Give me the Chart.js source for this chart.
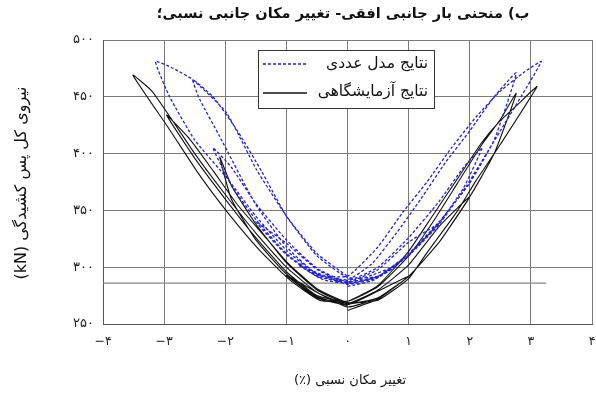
<!DOCTYPE html>
<html>
<head>
<meta charset="utf-8">
<script src="https://cdn.jsdelivr.net/npm/chart.js@4"></script>
<style>
  body { margin: 0; background: #fff; }
  #wrap { width: 596px; height: 394px; }
</style>
</head>
<body>
<div id="wrap"><canvas id="c" width="596" height="394"></canvas></div>
<script>
// texts
const chartTitle = "ب) منحنی بار جانبی افقی- تغییر مکان جانبی نسبی؛";
const xTitle = "تغییر مکان نسبی (٪)";
const yTitle = "نیروی کل پس کشیدگی (kN)";
const numLabel = "نتایج مدل عددی";
const expLabel = "نتایج آزمایشگاهی";

// tick values
const xTicks = [-4, -3, -2, -1, 0, 1, 2, 3, 4];
const yTicks = [250, 300, 350, 400, 450, 500];

// numerical model (blue dashed), drift % / force kN
const numX = [
  0, 0.4, 0.8, 0.4, 0, -0.4, -0.8, -0.4, 0,
  0.5, 1.0, 1.5, 1.0, 0.5, 0, -0.5, -1.0, -1.5, -1.0, -0.5, 0,
  0.5, 1.0, 1.5, 1.9, 2.2, 1.9, 1.5, 1.0, 0.5, 0, -0.5, -1.0, -1.5, -1.9, -2.2, -1.9, -1.5, -1.0, -0.5, 0,
  0.5, 1.0, 1.5, 2.0, 2.4, 2.76, 2.4, 2.0, 1.6, 1.2, 0.8, 0.4, 0, -0.5, -1.0, -1.5, -2.09, -2.42, -2.53, -2.2, -1.8, -1.4, -1.0, -0.5, 0,
  0.5, 1.0, 1.5, 1.94, 2.5, 3.17, 2.9, 2.5, 2.1, 1.7, 1.3, 0.9, 0.5, 0, -0.5, -1.0, -1.5, -1.95, -2.5, -2.91, -3.14, -2.85, -2.53, -1.98, -1.49, -1.0, -0.5, 0
];
const numY = [
  283, 288, 301, 293, 286, 289, 302, 293, 285,
  291, 310, 338, 322, 298, 287, 292, 311, 340, 321, 298, 286,
  292, 311, 339, 370, 405, 388, 358, 326, 300, 288, 293, 312, 342, 372, 405, 388, 356, 324, 299, 287,
  292, 312, 340, 374, 412, 471, 450, 420, 392, 360, 330, 303, 289, 294, 318, 355, 415, 448, 465, 450, 420, 384, 345, 310, 291,
  292, 312, 338, 371, 420, 481, 472, 455, 432, 405, 375, 348, 318, 292, 294, 315, 345, 377, 412, 450, 481, 475, 465, 436, 386, 345, 312, 292
];

// experimental results (black solid)
const expX = [
  0, 0.5, 1.0, 0.5, 0, -0.5, -1.0, -0.5, 0,
  0.5, 1.0, 1.5, 2.0, 1.5, 1.0, 0.5, 0, -0.5, -1.0, -1.5, -1.9, -2.09, -1.9, -1.5, -1.0, -0.5, 0,
  0.5, 1.0, 1.5, 2.0, 2.4, 2.76, 2.5, 2.2, 1.8, 1.4, 1.0, 0.5, 0, -0.5, -1.0, -1.5, -2.0, -2.5, -2.96, -2.6, -2.2, -1.8, -1.4, -1.0, -0.5, 0,
  0.5, 1.0, 1.29, 1.78, 2.1, 2.5, 3.1, 2.8, 2.48, 2.2, 1.8, 1.4, 1.0, 0.5, 0, -0.46, -0.95, -1.44, -1.93, -2.42, -2.91, -3.51, -3.2, -2.9, -2.5, -2.0, -1.5, -1.0, -0.5, 0
];
const expY = [
  262, 272, 292, 279, 267, 273, 293, 278, 265,
  273, 292, 322, 362, 336, 302, 280, 268, 274, 294, 324, 360, 397, 372, 338, 304, 280, 268,
  273, 292, 322, 362, 400, 453, 430, 408, 374, 340, 310, 283, 270, 275, 296, 326, 360, 396, 434, 414, 385, 355, 330, 305, 281, 269,
  271, 290, 312, 348, 376, 408, 459, 444, 428, 410, 378, 346, 314, 284, 270, 271, 289, 315, 346, 381, 421, 469, 455, 432, 400, 364, 330, 300, 278, 266
];

// grey horizontal reference line
const refX = [-4, 3.25];
const refY = [286, 286];

const faDigits = "۰۱۲۳۴۵۶۷۸۹";
function toFa(v) {
  const s = String(Math.abs(v)).replace(/[0-9]/g, d => faDigits[d]);
  return v < 0 ? "−" + s : s;
}
function pts(xs, ys) {
  return xs.map((x, i) => ({ x, y: ys[i] }));
}

const FONT = '"DejaVu Sans", sans-serif';

const persianText = {
  id: "persianText",
  afterDraw(chart) {
    const ctx = chart.ctx;
    ctx.save();
    ctx.fillStyle = "#111";
    ctx.direction = "rtl";
    ctx.textAlign = "center";
    ctx.textBaseline = "middle";

    ctx.font = "bold 14.5px " + FONT;
    ctx.fillText(chartTitle, 343, 14);

    ctx.font = "13px " + FONT;
    ctx.fillText(xTitle, 350, 381);

    ctx.save();
    ctx.translate(22, 183);
    ctx.rotate(-Math.PI / 2);
    ctx.font = "16px " + FONT;
    ctx.fillText(yTitle, 0, 0);
    ctx.restore();

    // legend box
    ctx.fillStyle = "#fff";
    ctx.fillRect(258, 50, 176, 58);
    ctx.strokeStyle = "#333";
    ctx.lineWidth = 1;
    ctx.strokeRect(258.5, 50.5, 176, 58);

    ctx.lineWidth = 1.3;
    ctx.strokeStyle = "#2323c8";
    ctx.setLineDash([3, 2]);
    ctx.beginPath(); ctx.moveTo(263, 64); ctx.lineTo(307, 64); ctx.stroke();
    ctx.setLineDash([]);
    ctx.strokeStyle = "#111";
    ctx.beginPath(); ctx.moveTo(263, 93); ctx.lineTo(307, 93); ctx.stroke();

    ctx.fillStyle = "#111";
    ctx.font = "15.5px " + FONT;
    ctx.textAlign = "right";
    ctx.fillText(numLabel, 428, 64);
    ctx.fillText(expLabel, 428, 92);
    ctx.restore();
  }
};

new Chart(document.getElementById("c"), {
  type: "scatter",
  data: {
    datasets: [
      {
        label: numLabel,
        data: pts(numX, numY),
        showLine: true,
        borderColor: "#2323c8",
        borderWidth: 1.3,
        borderDash: [3, 2],
        pointRadius: 0,
        tension: 0.15
      },
      {
        label: expLabel,
        data: pts(expX, expY),
        showLine: true,
        borderColor: "#111",
        borderWidth: 1.1,
        pointRadius: 0,
        tension: 0.15
      },
      {
        label: "ref",
        data: pts(refX, refY),
        showLine: true,
        borderColor: "#888",
        borderWidth: 1.2,
        pointRadius: 0
      }
    ]
  },
  options: {
    responsive: false,
    animation: false,
    layout: { padding: { left: 0, right: 4, top: 40, bottom: 0 } },
    plugins: {
      legend: { display: false },
      tooltip: { enabled: false }
    },
    scales: {
      x: {
        type: "linear",
        min: xTicks[0],
        max: xTicks[xTicks.length - 1],
        afterBuildTicks: s => { s.ticks = xTicks.map(v => ({ value: v })); },
        afterFit: s => { s.height = 70; s.paddingRight = 0; s.paddingLeft = 0; },
        grid: { color: "#7a7a7a", drawTicks: false },
        border: { color: "#555" },
        ticks: {
          padding: 10,
          color: "#222",
          font: { family: FONT, size: 12.5 },
          callback: v => toFa(v)
        }
      },
      y: {
        type: "linear",
        min: yTicks[0],
        max: yTicks[yTicks.length - 1],
        afterBuildTicks: s => { s.ticks = yTicks.map(v => ({ value: v })); },
        afterFit: s => { s.width = 103; },
        grid: { color: "#7a7a7a", drawTicks: false },
        border: { color: "#555" },
        ticks: {
          padding: 9,
          color: "#222",
          font: { family: FONT, size: 13 },
          callback: v => toFa(v)
        }
      }
    }
  },
  plugins: [persianText]
});
</script>
</body>
</html>
